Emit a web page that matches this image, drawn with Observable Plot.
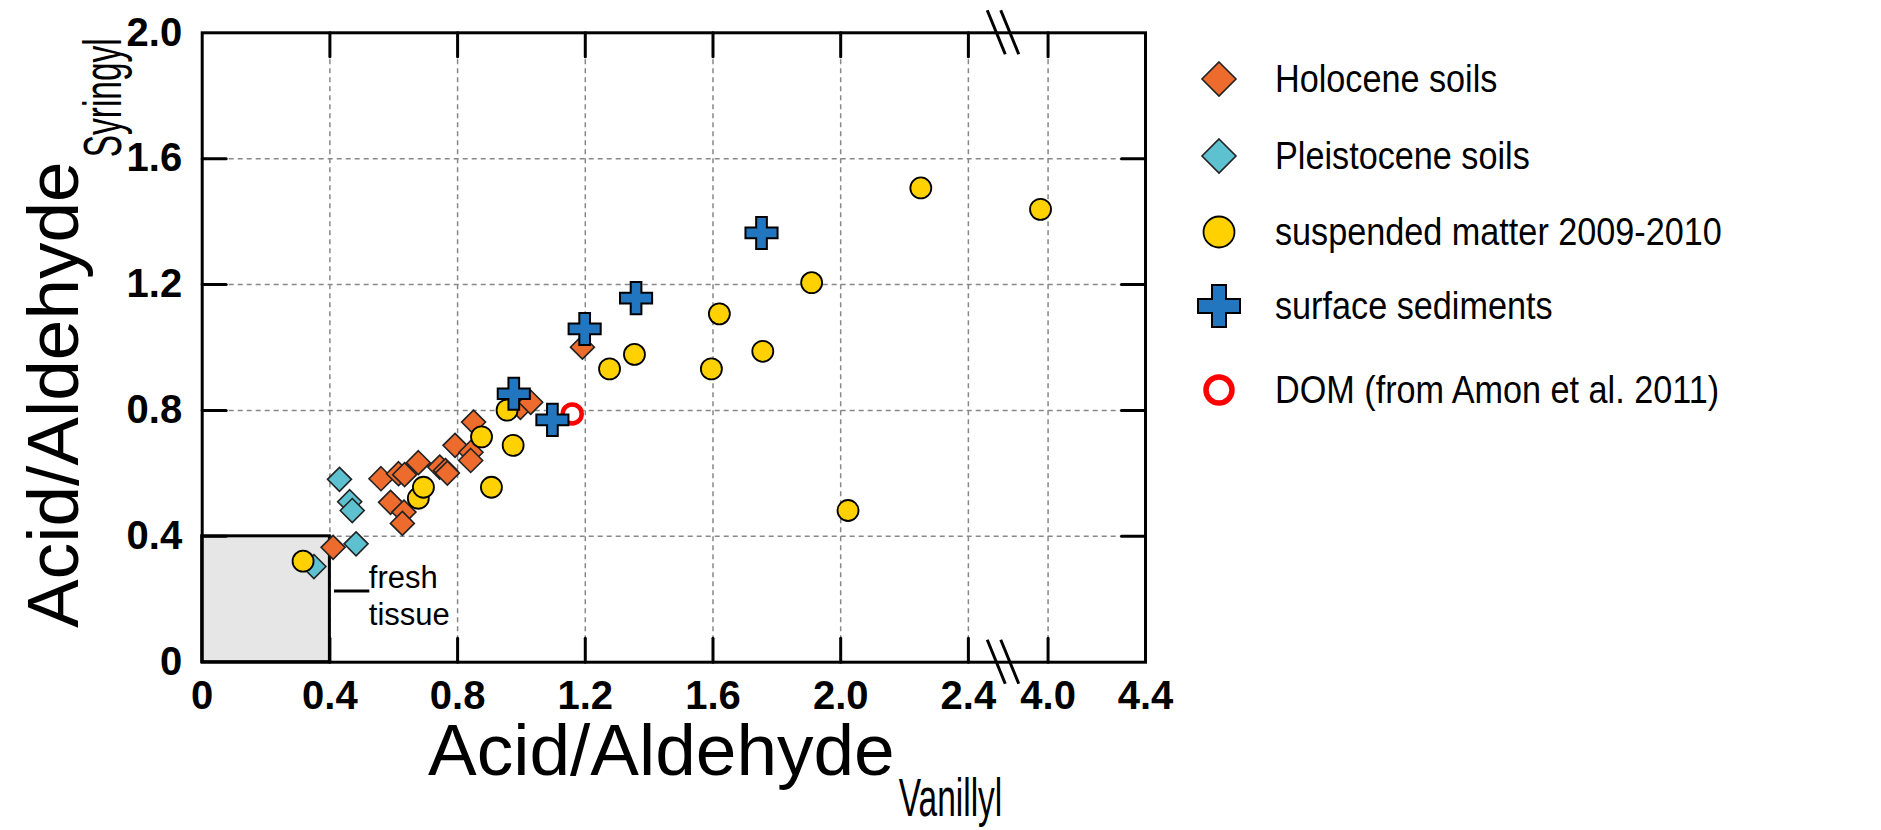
<!DOCTYPE html>
<html>
<head>
<meta charset="utf-8">
<script src="https://cdn.jsdelivr.net/npm/d3@7"></script>
<script src="https://cdn.jsdelivr.net/npm/@observablehq/plot@0.6"></script>
<style>
  body { margin: 0; background: #fff; }
  #wrap { position: relative; width: 1881px; height: 830px; font-family: "Liberation Sans", Arial, sans-serif; }
  #wrap > svg { position: absolute; left: 0; top: 0; }
  .item { position: absolute; display: flex; align-items: center; height: 50px; font-size: 38px; color: #000; white-space: nowrap; }
  .item span { margin-left: 31px; display: inline-block; transform: scaleX(0.9); transform-origin: left center; }
</style>
</head>
<body>
<div id="wrap"></div>
<script>
// ---- data ----
const holocene = [[0.41,0.365],[0.56,0.583],[0.59,0.508],[0.615,0.599],[0.634,0.596],[0.632,0.477],[0.627,0.441],[0.677,0.634],[0.744,0.620],[0.762,0.609],[0.768,0.601],[0.792,0.689],[0.842,0.667],[0.841,0.641],[0.85,0.763],[0.997,0.81],[1.029,0.826],[1.191,1.001]];
const pleistocene = [[0.35,0.304],[0.43,0.581],[0.462,0.51],[0.47,0.482],[0.482,0.376]];
const suspended = [[0.316,0.321],[0.677,0.521],[0.693,0.556],[0.875,0.716],[0.906,0.556],[0.955,0.801],[0.974,0.689],[1.276,0.932],[1.354,0.978],[1.595,0.932],[1.62,1.107],[1.756,0.988],[1.909,1.206],[2.023,0.482],[2.251,1.507],[3.969,1.439]];
const surface = [[0.976,0.853],[1.097,0.77],[1.198,1.059],[1.359,1.157],[1.752,1.364]];
const dom = [[1.159,0.789]];
const freshBox = [{x1: 0, x2: 0.4, y1: 0, y2: 0.4}];
const freshLine = [{x1: 0.4145, x2: 0.525, y: 0.226}];
const freshText = [{x: 0.522, y: 0.214, text: "fresh\ntissue"}];
const xTicks = [0, 0.4, 0.8, 1.2, 1.6, 2.0, 2.4, 4.0, 4.4];
const yTicks = [0, 0.4, 0.8, 1.2, 1.6, 2.0];
const xInner = [0.4, 0.8, 1.2, 1.6, 2.0, 2.4, 4.0];
const yInner = [0.4, 0.8, 1.2, 1.6];
const xDomain = [0, 2.51, 3.817, 4.4];   // broken axis: 2.51 .. 3.817 is cut out
const xTitle = ["Acid/Aldehyde", "Vanillyl"];
const yTitle = ["Acid/Aldehyde", "Syringyl"];
const legendItems = [
  {label: "Holocene soils", key: "holo"},
  {label: "Pleistocene soils", key: "pleis"},
  {label: "suspended matter 2009-2010", key: "susp"},
  {label: "surface sediments", key: "surf"},
  {label: "DOM (from Amon et al. 2011)", key: "dom"}
];

// ---- styles ----
const C = {holo: "#EC6B2D", pleis: "#5EC1CF", susp: "#FFD100", surf: "#2176BF", dom: "#FF0000"};
const W = 1881, H = 830;
const pLeft = 201.7, pRight = 1145, pTop = 32.3, pBottom = 661.7, pBreak = 1003;
const fmt = d => d === 0 ? "0" : d.toFixed(1);
const gx = d => d[0], gy = d => d[1];
const grid = {stroke: "#888", strokeOpacity: 1, strokeWidth: 1.5, strokeDasharray: "5,4"};
const tickShape = {draw(context, l) { context.moveTo(0, 0); context.lineTo(0, -l); }};
const tick = {length: 24, anchor: "start", shape: tickShape, stroke: "black", strokeWidth: 3};
const FONT = "Liberation Sans, Arial, sans-serif";

const chart = Plot.plot({
  width: W, height: H,
  marginLeft: pLeft, marginRight: W - pRight, marginTop: pTop, marginBottom: H - pBottom,
  style: {fontFamily: FONT, color: "black", background: "white"},
  x: {type: "linear", domain: xDomain, range: [pLeft, pBreak, pBreak, pRight]},
  y: {domain: [0, 2]},
  marks: [
    Plot.gridX(xInner, grid),
    Plot.gridY(yInner, grid),
    Plot.rect(freshBox, {x1: "x1", x2: "x2", y1: "y1", y2: "y2", fill: "#e6e6e6", stroke: "black", strokeWidth: 3}),
    Plot.ruleY(freshLine, {y: "y", x1: "x1", x2: "x2", stroke: "black", strokeWidth: 3}),
    Plot.text(freshText, {x: "x", y: "y", text: "text", textAnchor: "start", fontSize: 31, lineHeight: 1.2, fill: "black"}),
    Plot.dot(pleistocene, {x: gx, y: gy, symbol: "diamond2", r: 10.8, fill: C.pleis, stroke: "#222", strokeWidth: 1.6}),
    Plot.dot(holocene, {x: gx, y: gy, symbol: "diamond2", r: 10.8, fill: C.holo, stroke: "#222", strokeWidth: 1.6}),
    Plot.dot(suspended, {x: gx, y: gy, r: 10.5, fill: C.susp, stroke: "black", strokeWidth: 1.8}),
    Plot.dot(dom, {x: gx, y: gy, r: 9.5, fill: "white", stroke: C.dom, strokeWidth: 4.5}),
    Plot.dot(surface, {x: gx, y: gy, symbol: "cross", r: 13.5, fill: C.surf, stroke: "black", strokeWidth: 2}),
    Plot.frame({stroke: "black", strokeWidth: 3}),
    // inward ticks on all four sides
    Plot.vector(xInner, {x: d => d, y: 0, rotate: 0, ...tick}),
    Plot.vector(xInner, {x: d => d, y: 2, rotate: 180, ...tick}),
    Plot.vector(yInner, {x: 0, y: d => d, rotate: 90, ...tick}),
    Plot.vector(yInner, {x: 4.4, y: d => d, rotate: 270, ...tick}),
    // tick labels
    Plot.axisX(xTicks, {anchor: "bottom", tickSize: 0, tickPadding: 18, tickFormat: fmt, fontSize: 40, fontWeight: "bold", label: null}),
    Plot.axisY(yTicks, {anchor: "left", tickSize: 0, tickPadding: 20, tickFormat: fmt, fontSize: 40, fontWeight: "bold", label: null})
  ]
});

const wrap = document.getElementById("wrap");
wrap.appendChild(chart);

// axis break marks, placed with the chart's own scales
const sx = chart.scale("x"), sy = chart.scale("y");
const svg = d3.select(chart);
const bx = sx.apply(xDomain[1]);
for (const yv of [0, 2]) {
  const yp = sy.apply(yv);
  for (const off of [-6.75, 6.75]) {
    svg.append("line")
      .attr("x1", bx + off - 9).attr("y1", yp - 22)
      .attr("x2", bx + off + 9).attr("y2", yp + 22)
      .attr("stroke", "black").attr("stroke-width", 3);
  }
}

// axis titles with (condensed) subscripts
function title(x0, y0, rotate, parts, subDy) {
  const g = svg.append("g").attr("transform", `translate(${x0},${y0}) rotate(${rotate})`);
  const main = g.append("text").attr("x", 0).attr("y", 0).attr("text-anchor", "start")
    .attr("font-family", FONT).attr("font-size", 73).attr("fill", "black").text(parts[0]);
  const w = main.node().getComputedTextLength();
  g.append("text").attr("transform", `translate(${w + 4},${subDy}) scale(0.62,1)`).attr("text-anchor", "start")
    .attr("font-family", FONT).attr("font-size", 54).attr("fill", "black").text(parts[1]);
}
title(428, 775, 0, xTitle, 41);
title(78, 628, -90, yTitle, 43);

// legend
const rowsY = [79, 156, 232, 306, 390];
const markerX = 1219;
function markerSvg(key) {
  const s = d3.create("svg").attr("width", 50).attr("height", 50);
  const g = s.append("g").attr("transform", "translate(25,25)");
  if (key === "holo" || key === "pleis") {
    g.append("path").attr("d", d3.symbol(d3.symbolDiamond2, Math.pow(17 / 0.62625, 2))())
      .attr("fill", C[key]).attr("stroke", "#222").attr("stroke-width", 1.6);
  } else if (key === "susp") {
    g.append("circle").attr("r", 15.5).attr("fill", C.susp).attr("stroke", "black").attr("stroke-width", 1.8);
  } else if (key === "surf") {
    g.append("path").attr("d", d3.symbol(d3.symbolCross, Math.pow(14, 2) * 5)())
      .attr("fill", C.surf).attr("stroke", "black").attr("stroke-width", 2);
  } else {
    g.append("circle").attr("r", 13).attr("fill", "white").attr("stroke", C.dom).attr("stroke-width", 5.5);
  }
  return s.node();
}
legendItems.forEach((it, i) => {
  const div = document.createElement("div");
  div.className = "item";
  div.style.left = (markerX - 25) + "px";
  div.style.top = (rowsY[i] - 25) + "px";
  div.appendChild(markerSvg(it.key));
  const sp = document.createElement("span");
  sp.textContent = it.label;
  div.appendChild(sp);
  wrap.appendChild(div);
});
</script>
</body>
</html>
